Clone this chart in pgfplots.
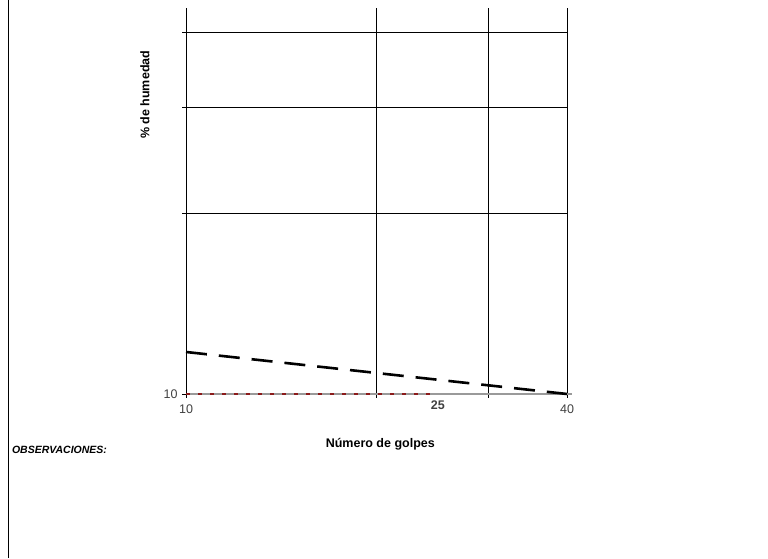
\documentclass[border=0pt]{standalone}
\usepackage{pgfplots}
\pgfplotsset{compat=1.18}
\usepackage{fontspec}
\setmainfont{Liberation Sans}
\definecolor{tickgray}{HTML}{404040}
\definecolor{axgray}{HTML}{9A9A9A}
\definecolor{dred}{HTML}{8B1A1A}
\begin{document}
\begin{tikzpicture}[x=1pt,y=1pt]
\useasboundingbox (0,0) rectangle (768,558);
\draw[line width=1pt,black] (8,0) -- (8,558);
\node[anchor=west,font=\fontsize{10.5}{12}\selectfont\bfseries\itshape] at (8.5,108) {OBSERVACIONES:};
\begin{axis}[
  at={(186pt,164pt)}, anchor=south west,
  scale only axis, width=381pt, height=386pt,
  xmode=log, ymode=log,
  xmin=10, xmax=40, ymin=10, ymax=44,
  axis x line*=bottom, axis y line*=left,
  x axis line style={draw=axgray,line width=1.6pt,-,shorten >=-5pt},
  y axis line style={draw=black,line width=0.9pt,-},
  xtick={10,20,30,40}, xticklabels={10,,,40},
  extra x ticks={25}, extra x tick labels={\textbf{25}},
  extra x tick style={grid=none, major tick length=0pt},
  ytick={10,20,30,40}, yticklabels={10,,,},
  grid=major, major grid style={black,line width=0.8pt},
  tick align=outside, major tick length=4pt,
  tick style={black,line width=0.8pt},
  minor tick num=0,
  xminorticks=false, yminorticks=false,
  ticklabel style={font=\fontsize{12.5}{14}\selectfont, text=tickgray},
  xticklabel style={yshift=-3pt},
  yticklabel style={xshift=-1pt},
  xlabel={Número de golpes}, ylabel={\% de humedad},
  label style={font=\fontsize{12.5}{14}\selectfont\bfseries},
  xlabel style={at={(axis description cs:0.51,-0.13)}, anchor=center},
  ylabel style={at={(axis description cs:-0.108,0.775)}, anchor=center, rotate=0},
  clip=false,
]
\addplot[dred, line width=1.8pt, dash pattern=on 4pt off 8pt] coordinates {(10,10) (25,10)};
\addplot[black, line width=2.6pt, dash pattern=on 21pt off 12pt] coordinates {(10,11.75) (40,10)};
\end{axis}
\end{tikzpicture}
\end{document}
